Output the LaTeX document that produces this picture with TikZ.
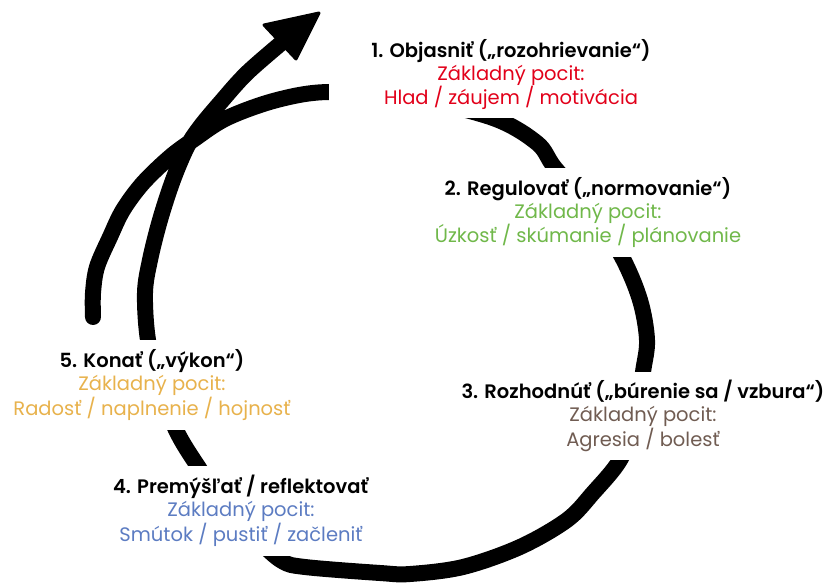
\documentclass[tikz,border=0pt]{standalone}
\usepackage{fontspec}
\setmainfont{Poppins}[BoldFont={Poppins SemiBold}]
\definecolor{cred}{RGB}{226,0,26}
\definecolor{cgreen}{RGB}{112,184,74}
\definecolor{cbrown}{RGB}{112,92,82}
\definecolor{cblue}{RGB}{92,124,194}
\definecolor{cyellow}{RGB}{232,178,76}
\definecolor{ctitle}{RGB}{20,20,20}
\begin{document}
\begin{tikzpicture}[x=1pt,y=-1pt,
  spiral/.style={line width=16pt, line cap=round, line join=round, black},
  stagebox/.style={fill=white, align=center, inner sep=0pt,
    font=\fontsize{19.5}{23}\selectfont},
  ttl/.style={text=ctitle}]
\useasboundingbox (0,0) rectangle (825,583);

% hand-drawn spiral, running clockwise and ending in the arrow
\draw[spiral] plot[smooth, tension=0.55] coordinates {
  (93,317) (93,293) (97,267) (110,237) (123,210) (143,183) (170,157)
  (193,140) (227,118) (277,100) (329,92) (410,98) (493,118) (537,143)
  (555,168) (592,210) (622,257) (640,300) (647,340) (643,372) (636,420)
  (620,460) (593,493) (567,520) (520,547) (463,567) (410,574) (380,573)
  (305,567) (282,561) (258,540) (225,505) (197,465) (177,432) (160,390)
  (148,340) (145,293) (150,260) (160,220) (173,180) (187,147) (200,127)
  (220,103) (247,73) (285,40)};
% arrowhead
\filldraw[black, line width=3pt, line join=round]
  (319,13) -- (264,25) -- (296,59) -- cycle;

% stage labels (white boxes interrupt the spiral)
\node[stagebox, minimum width=364pt, minimum height=87pt] (s1) at (511,74.5)
  {\textbf{1. Objasniť („rozohrievanie“)}\\
   \textcolor{cred}{Základný pocit:}\\
   \textcolor{cred}{Hlad / záujem / motivácia}};
\node[stagebox, minimum width=340pt, minimum height=89pt] (s2) at (588,212.5)
  {\textbf{2. Regulovať („normovanie“)}\\
   \textcolor{cgreen}{Základný pocit:}\\
   \textcolor{cgreen}{Úzkosť / skúmanie / plánovanie}};
\node[stagebox, minimum width=370pt, minimum height=88pt] (s3) at (643,416)
  {\textbf{3. Rozhodnúť („búrenie sa / vzbura“)}\\
   \textcolor{cbrown}{Základný pocit:}\\
   \textcolor{cbrown}{Agresia / bolesť}};
\node[stagebox, minimum width=300pt, minimum height=90pt] (s4) at (241,511)
  {\textbf{4. Premýšľať / reflektovať}\\
   \textcolor{cblue}{Základný pocit:}\\
   \textcolor{cblue}{Smútok / pustiť / začleniť}};
\node[stagebox, minimum width=300pt, minimum height=90pt] (s5) at (152,385)
  {\textbf{5. Konať („výkon“)}\\
   \textcolor{cyellow}{Základný pocit:}\\
   \textcolor{cyellow}{Radosť / naplnenie / hojnosť}};
\end{tikzpicture}
\end{document}
